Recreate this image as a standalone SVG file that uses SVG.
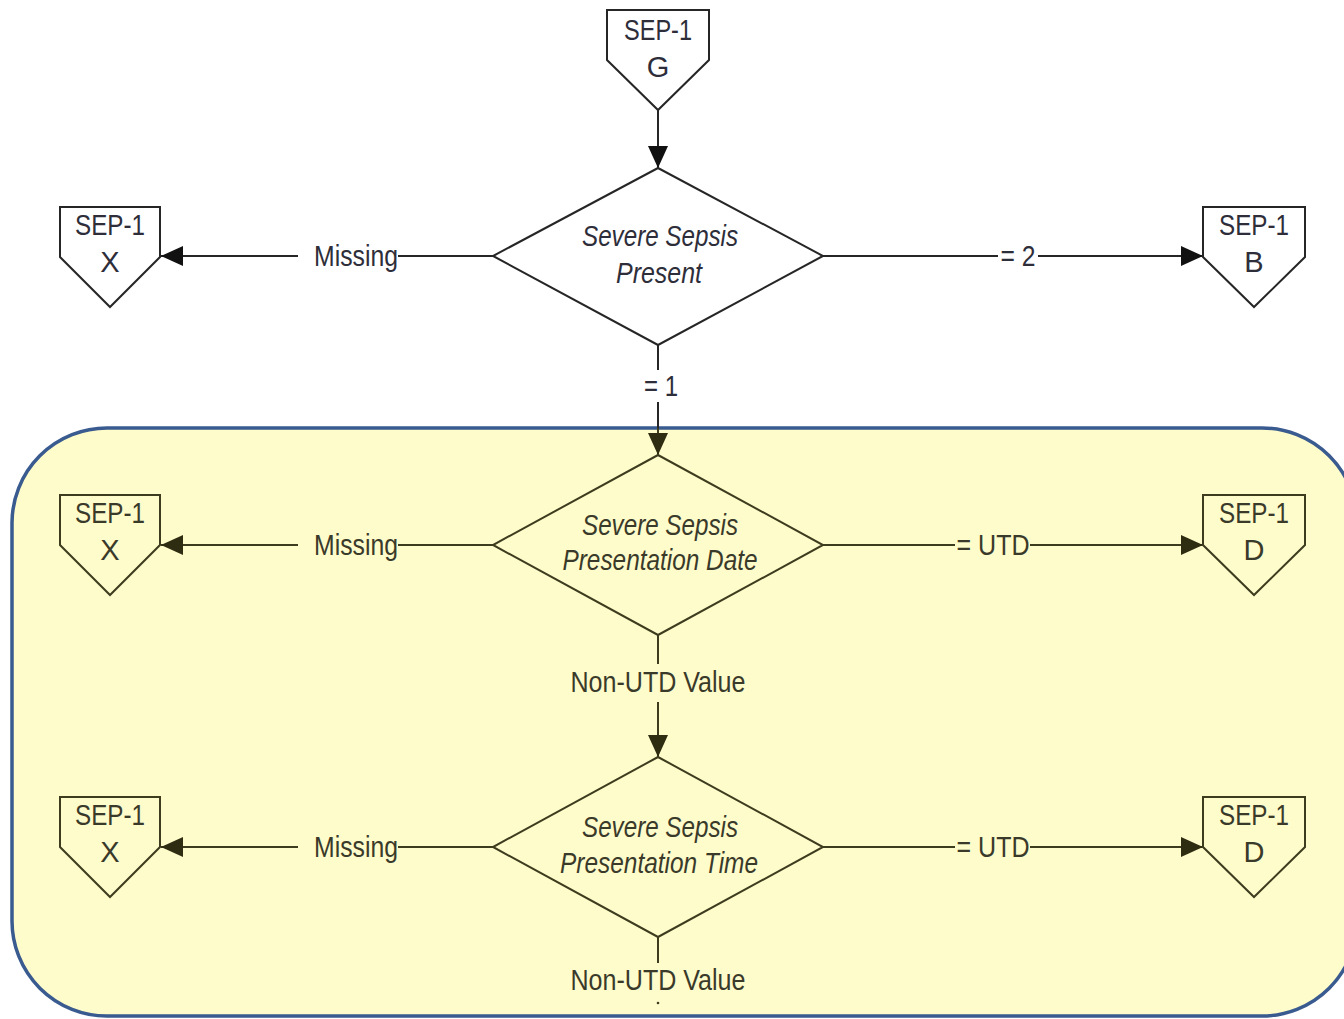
<svg xmlns="http://www.w3.org/2000/svg" width="1344" height="1019" viewBox="0 0 1344 1019">
  <style>
    .bg { fill: #ffffff; }
    .frame { fill: #fffccb; stroke: #3a5b8f; stroke-width: 3.5; }
    .shape { fill: #ffffff; stroke: #262626; stroke-width: 2; }
    .shape-in { fill: #fffccb; stroke: #3d3c1f; stroke-width: 2; }
    .wire { fill: none; stroke: #262626; stroke-width: 2; }
    .wire-in { fill: none; stroke: #3d3c1f; stroke-width: 2; }
    text { font-family: "Liberation Sans", Arial, sans-serif; font-size: 29px; text-anchor: middle; }
    .t { fill: #2e2e3a; }
    .t-in { fill: #3a3a2a; }
    .q { font-style: italic; }
  </style>
  <defs>
    <marker id="arr" viewBox="0 0 22 20" refX="22" refY="10" markerWidth="22" markerHeight="20" markerUnits="userSpaceOnUse" orient="auto">
      <path d="M0,0 L22,10 L0,20 Z" fill="#111111"/>
    </marker>
    <marker id="arr-in" viewBox="0 0 22 20" refX="22" refY="10" markerWidth="22" markerHeight="20" markerUnits="userSpaceOnUse" orient="auto">
      <path d="M0,0 L22,10 L0,20 Z" fill="#2e2d12"/>
    </marker>
  </defs>

  <rect class="bg" x="0" y="0" width="1344" height="1019"/>

  <!-- highlighted date/time section -->
  <rect id="section" class="frame" x="12" y="428" width="1345" height="588" rx="95" ry="95"/>

  <!-- connectors -->
  <g id="connectors">
    <line class="wire" x1="658" y1="110" x2="658" y2="168" marker-end="url(#arr)"/>
    <line class="wire" x1="493" y1="256" x2="398" y2="256"/>
    <line class="wire" x1="298" y1="256" x2="161" y2="256" marker-end="url(#arr)"/>
    <line class="wire" x1="823" y1="256" x2="998" y2="256"/>
    <line class="wire" x1="1038" y1="256" x2="1203" y2="256" marker-end="url(#arr)"/>
    <line class="wire" x1="658" y1="345" x2="658" y2="370"/>
    <line class="wire" x1="658" y1="402" x2="658" y2="428"/>
    <line class="wire-in" x1="658" y1="428" x2="658" y2="455" marker-end="url(#arr-in)"/>

    <line class="wire-in" x1="493" y1="545" x2="398" y2="545"/>
    <line class="wire-in" x1="298" y1="545" x2="161" y2="545" marker-end="url(#arr-in)"/>
    <line class="wire-in" x1="823" y1="545" x2="955" y2="545"/>
    <line class="wire-in" x1="1030" y1="545" x2="1203" y2="545" marker-end="url(#arr-in)"/>
    <line class="wire-in" x1="658" y1="635" x2="658" y2="664"/>
    <line class="wire-in" x1="658" y1="702" x2="658" y2="757" marker-end="url(#arr-in)"/>

    <line class="wire-in" x1="493" y1="847" x2="398" y2="847"/>
    <line class="wire-in" x1="298" y1="847" x2="161" y2="847" marker-end="url(#arr-in)"/>
    <line class="wire-in" x1="823" y1="847" x2="955" y2="847"/>
    <line class="wire-in" x1="1030" y1="847" x2="1203" y2="847" marker-end="url(#arr-in)"/>
    <line class="wire-in" x1="658" y1="937" x2="658" y2="963"/>
    <circle cx="658" cy="1003" r="1.3" fill="#3d3c1f"/>

    <!-- connector labels -->
    <text class="t" x="356" y="266" textLength="84" lengthAdjust="spacingAndGlyphs">Missing</text>
    <text class="t" x="1018" y="266" textLength="35" lengthAdjust="spacingAndGlyphs">= 2</text>
    <text class="t" x="661" y="396" textLength="34" lengthAdjust="spacingAndGlyphs">= 1</text>
    <text class="t-in" x="356" y="555" textLength="84" lengthAdjust="spacingAndGlyphs">Missing</text>
    <text class="t-in" x="993" y="555" textLength="73" lengthAdjust="spacingAndGlyphs">= UTD</text>
    <text class="t-in" x="658" y="692" textLength="175" lengthAdjust="spacingAndGlyphs">Non-UTD Value</text>
    <text class="t-in" x="356" y="857" textLength="84" lengthAdjust="spacingAndGlyphs">Missing</text>
    <text class="t-in" x="993" y="857" textLength="73" lengthAdjust="spacingAndGlyphs">= UTD</text>
    <text class="t-in" x="658" y="990" textLength="175" lengthAdjust="spacingAndGlyphs">Non-UTD Value</text>
  </g>

  <!-- off-page connector G -->
  <g id="sep1-g">
    <path class="shape" d="M607,10 L709,10 L709,60 L658,110 L607,60 Z"/>
    <text class="t" x="658" y="40" textLength="68" lengthAdjust="spacingAndGlyphs">SEP-1</text>
    <text class="t" x="658" y="77">G</text>
  </g>

  <!-- decision: severe sepsis present -->
  <g id="severe-sepsis-present">
    <path class="shape" d="M658,168 L823,256 L658,345 L493,256 Z"/>
    <text class="t q" x="660" y="246" textLength="156" lengthAdjust="spacingAndGlyphs">Severe Sepsis</text>
    <text class="t q" x="659" y="283" textLength="86" lengthAdjust="spacingAndGlyphs">Present</text>
  </g>

  <g id="sep1-x-1">
    <path class="shape" d="M60,207 L160,207 L160,257 L110,307 L60,257 Z"/>
    <text class="t" x="110" y="235" textLength="70" lengthAdjust="spacingAndGlyphs">SEP-1</text>
    <text class="t" x="110" y="272">X</text>
  </g>

  <g id="sep1-b">
    <path class="shape" d="M1203,207 L1305,207 L1305,257 L1254,307 L1203,257 Z"/>
    <text class="t" x="1254" y="235" textLength="70" lengthAdjust="spacingAndGlyphs">SEP-1</text>
    <text class="t" x="1254" y="272">B</text>
  </g>

  <!-- decision: presentation date -->
  <g id="presentation-date">
    <path class="shape-in" d="M658,455 L823,545 L658,635 L493,545 Z"/>
    <text class="t-in q" x="660" y="535" textLength="156" lengthAdjust="spacingAndGlyphs">Severe Sepsis</text>
    <text class="t-in q" x="660" y="570" textLength="195" lengthAdjust="spacingAndGlyphs">Presentation Date</text>
  </g>

  <g id="sep1-x-2">
    <path class="shape-in" d="M60,495 L160,495 L160,545 L110,595 L60,545 Z"/>
    <text class="t-in" x="110" y="523" textLength="70" lengthAdjust="spacingAndGlyphs">SEP-1</text>
    <text class="t-in" x="110" y="560">X</text>
  </g>

  <g id="sep1-d-1">
    <path class="shape-in" d="M1203,495 L1305,495 L1305,545 L1254,595 L1203,545 Z"/>
    <text class="t-in" x="1254" y="523" textLength="70" lengthAdjust="spacingAndGlyphs">SEP-1</text>
    <text class="t-in" x="1254" y="560">D</text>
  </g>

  <!-- decision: presentation time -->
  <g id="presentation-time">
    <path class="shape-in" d="M658,757 L823,847 L658,937 L493,847 Z"/>
    <text class="t-in q" x="660" y="837" textLength="156" lengthAdjust="spacingAndGlyphs">Severe Sepsis</text>
    <text class="t-in q" x="659" y="873" textLength="198" lengthAdjust="spacingAndGlyphs">Presentation Time</text>
  </g>

  <g id="sep1-x-3">
    <path class="shape-in" d="M60,797 L160,797 L160,847 L110,897 L60,847 Z"/>
    <text class="t-in" x="110" y="825" textLength="70" lengthAdjust="spacingAndGlyphs">SEP-1</text>
    <text class="t-in" x="110" y="862">X</text>
  </g>

  <g id="sep1-d-2">
    <path class="shape-in" d="M1203,797 L1305,797 L1305,847 L1254,897 L1203,847 Z"/>
    <text class="t-in" x="1254" y="825" textLength="70" lengthAdjust="spacingAndGlyphs">SEP-1</text>
    <text class="t-in" x="1254" y="862">D</text>
  </g>
</svg>
